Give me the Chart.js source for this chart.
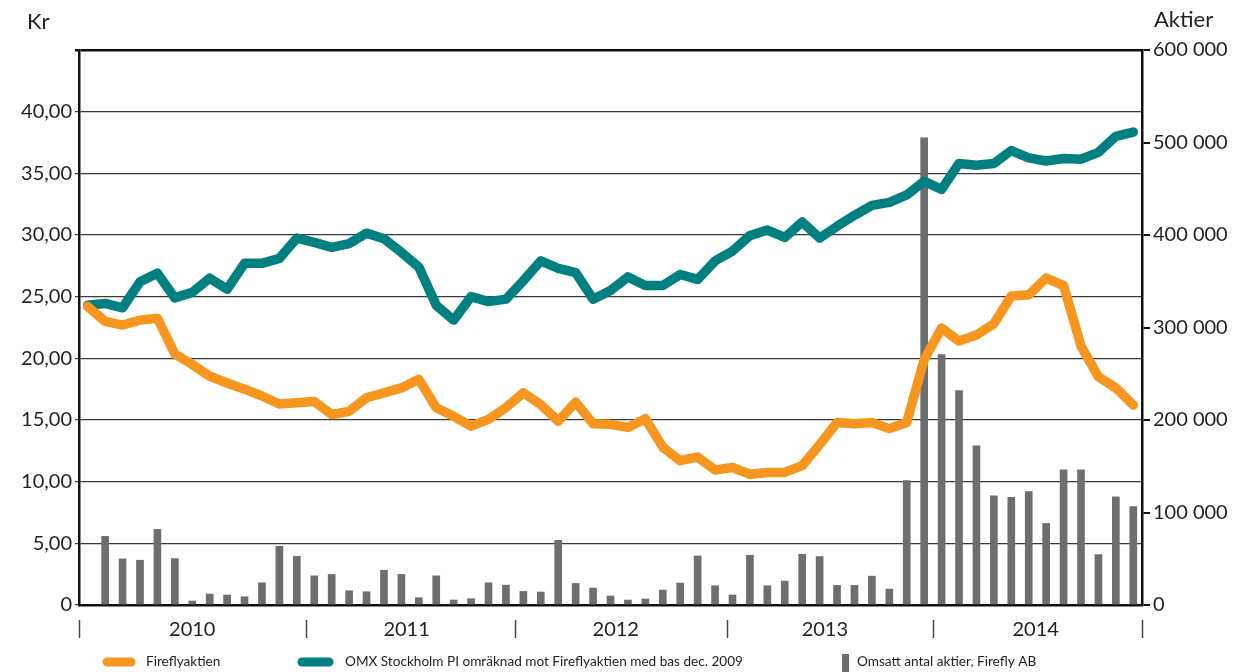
<!DOCTYPE html>
<html>
<head>
<meta charset="utf-8">
<script src="https://cdn.jsdelivr.net/npm/chart.js@4"></script>
<style>
  html, body { margin: 0; padding: 0; background: #fff; }
  canvas { display: block; }
</style>
</head>
<body>
<canvas id="kursChart" width="1237" height="672"></canvas>
<script>
// Månader dec 2009 - dec 2014
const manader = ['jan', 'feb', 'mar', 'apr', 'maj', 'jun', 'jul', 'aug', 'sep', 'okt', 'nov', 'dec'];
const ar = ['2010', '2011', '2012', '2013', '2014'];
const kategorier = ['dec 2009'];
ar.forEach(a => manader.forEach(m => kategorier.push(m + ' ' + a)));

const arsEtiketter = ['2010', '2011', '2012', '2013', '2014'];

// Kr
const fireflyaktien = [24.2, 23.0, 22.7, 23.1, 23.25, 20.35, 19.5, 18.55, 18.0, 17.5,
    16.95, 16.3, 16.4, 16.5, 15.45, 15.7, 16.8, 17.2, 17.6, 18.3,
    16.0, 15.3, 14.5, 15.05, 16.0, 17.2, 16.25, 14.9, 16.45, 14.7,
    14.65, 14.4, 15.1, 12.8, 11.7, 12.0, 10.95, 11.15, 10.6, 10.75,
    10.75, 11.3, 13.0, 14.8, 14.7, 14.8, 14.3, 14.8, 19.9, 22.45,
    21.4, 21.9, 22.8, 25.05, 25.15, 26.5, 25.9, 21.0, 18.5, 17.6, 16.2];

const omxStockholm = [24.3, 24.45, 24.1, 26.2, 26.9, 24.9, 25.35, 26.5, 25.6, 27.7,
    27.7, 28.1, 29.75, 29.4, 29.0, 29.3, 30.15, 29.7, 28.6, 27.4,
    24.3, 23.1, 25.0, 24.6, 24.8, 26.3, 27.9, 27.3, 26.95, 24.8,
    25.5, 26.6, 25.9, 25.9, 26.8, 26.4, 27.9, 28.7, 29.95, 30.4,
    29.8, 31.05, 29.75, 30.7, 31.6, 32.4, 32.65, 33.25, 34.35, 33.7,
    35.8, 35.65, 35.8, 36.85, 36.25, 36.0, 36.2, 36.15, 36.7, 38.0, 38.35];

// Aktier
const omsattAntal = [null, 74200, 49800, 48400, 81700, 50200, 4300, 11800, 10800, 8900,
    24000, 63400, 52700, 31500, 33000, 15400, 14300, 37600, 33000, 7900,
    31500, 5400, 6800, 24000, 21500, 14700, 14000, 69900, 23300, 18300,
    9700, 5400, 6500, 16100, 23700, 53000, 20800, 10800, 53800, 20800,
    25800, 54800, 52400, 21200, 21200, 31200, 17200, 134400, 505000, 270600,
    231900, 172000, 118000, 116500, 122600, 88200, 146200, 146200, 54500, 116900, 106500];

const ORANGE = '#F7961F';
const TEAL = '#008080';
const GRA = '#6D6E71';
const TEXT = '#231F20';
const FONT = 'Lato, "Open Sans", sans-serif';

// Text, årsmarkeringar och förklaring
const extraText = {
    id: 'extraText',
    afterDraw(chart) {
        const ctx = chart.ctx;
        const x = chart.scales.x;
        ctx.save();
        ctx.fillStyle = TEXT;
        ctx.font = '22px ' + FONT;
        ctx.textBaseline = 'middle';
        ctx.textAlign = 'left';
        ctx.fillText('Kr', 27, 22);
        ctx.fillText('Aktier', 1154, 20);

        // årsgränser
        ctx.strokeStyle = '#444';
        ctx.lineWidth = 1.5;
        [-0.5, 12.5, 24.5, 36.7, 48.5, 60.5].forEach(v => {
            const px = Math.round(x.getPixelForValue(v)) + 0.5;
            ctx.beginPath();
            ctx.moveTo(px, 620);
            ctx.lineTo(px, 638);
            ctx.stroke();
        });
        ctx.font = '20px ' + FONT;
        ctx.textAlign = 'center';
        [6, 18.3, 30.3, 42.3, 54.4].forEach((v, i) => {
            ctx.fillText(arsEtiketter[i], x.getPixelForValue(v), 630);
        });

        // förklaring
        const ly = 662;
        ctx.font = '13.6px ' + FONT;
        ctx.textAlign = 'left';
        ctx.lineCap = 'round';
        ctx.lineWidth = 9;
        ctx.strokeStyle = ORANGE;
        ctx.beginPath(); ctx.moveTo(107, ly); ctx.lineTo(131, ly); ctx.stroke();
        ctx.fillText(chart.data.datasets[0].label, 146, ly);
        ctx.strokeStyle = TEAL;
        ctx.beginPath(); ctx.moveTo(302, ly); ctx.lineTo(329, ly); ctx.stroke();
        ctx.fillText(chart.data.datasets[1].label, 345, ly);
        ctx.fillStyle = GRA;
        ctx.fillRect(842, 654, 7, 18);
        ctx.fillStyle = TEXT;
        ctx.fillText(chart.data.datasets[2].label, 857, ly);
        ctx.restore();
    }
};

new Chart(document.getElementById('kursChart'), {
    data: {
        labels: kategorier,
        datasets: [
            {
                type: 'line', label: 'Fireflyaktien', data: fireflyaktien,
                borderColor: ORANGE, borderWidth: 9.5, pointRadius: 0, tension: 0,
                borderCapStyle: 'round', borderJoinStyle: 'round', yAxisID: 'y', order: 1
            },
            {
                type: 'line', label: 'OMX Stockholm PI omräknad mot Fireflyaktien med bas dec. 2009', data: omxStockholm,
                borderColor: TEAL, borderWidth: 9.5, pointRadius: 0, tension: 0,
                borderCapStyle: 'round', borderJoinStyle: 'round', yAxisID: 'y', order: 2
            },
            {
                type: 'bar', label: 'Omsatt antal aktier, Firefly AB', data: omsattAntal,
                backgroundColor: GRA, barThickness: 7, yAxisID: 'y1', order: 3
            }
        ]
    },
    options: {
        responsive: false,
        animation: false,
        devicePixelRatio: 1,
        layout: { padding: { top: 50, left: 0, right: 0, bottom: 0 } },
        plugins: { legend: { display: false }, tooltip: { enabled: false } },
        scales: {
            x: {
                type: 'category',
                offset: true,
                grid: { display: false },
                ticks: { display: false },
                border: { display: true, color: '#111', width: 2.5 },
                afterFit: s => { s.height = 67; }
            },
            y: {
                position: 'left',
                min: 0, max: 45,
                ticks: {
                    stepSize: 5,
                    color: TEXT,
                    font: { family: FONT, size: 20 },
                    padding: 3,
                    callback: v => v === 0 ? '0' : (v === 45 ? '' : v.toFixed(2).replace('.', ','))
                },
                grid: {
                    color: c => c.tick && c.tick.value === 45 ? '#111' : '#3a3a3a',
                    lineWidth: c => c.tick && c.tick.value === 45 ? 2.5 : 1.2,
                    tickLength: 4
                },
                border: { display: true, color: '#111', width: 2.5 },
                afterFit: s => { s.width = 79; }
            },
            y1: {
                position: 'right',
                min: 0, max: 600000,
                ticks: {
                    stepSize: 100000,
                    color: TEXT,
                    font: { family: FONT, size: 20 },
                    padding: 3,
                    callback: v => v === 0 ? '0' : String(v).replace(/\B(?=(\d{3})+(?!\d))/g, ' ')
                },
                grid: { drawOnChartArea: false, color: '#111', lineWidth: 2, tickLength: 8 },
                border: { display: true, color: '#111', width: 2.5 },
                afterFit: s => { s.width = 95; }
            }
        }
    },
    plugins: [extraText]
});
</script>
</body>
</html>
